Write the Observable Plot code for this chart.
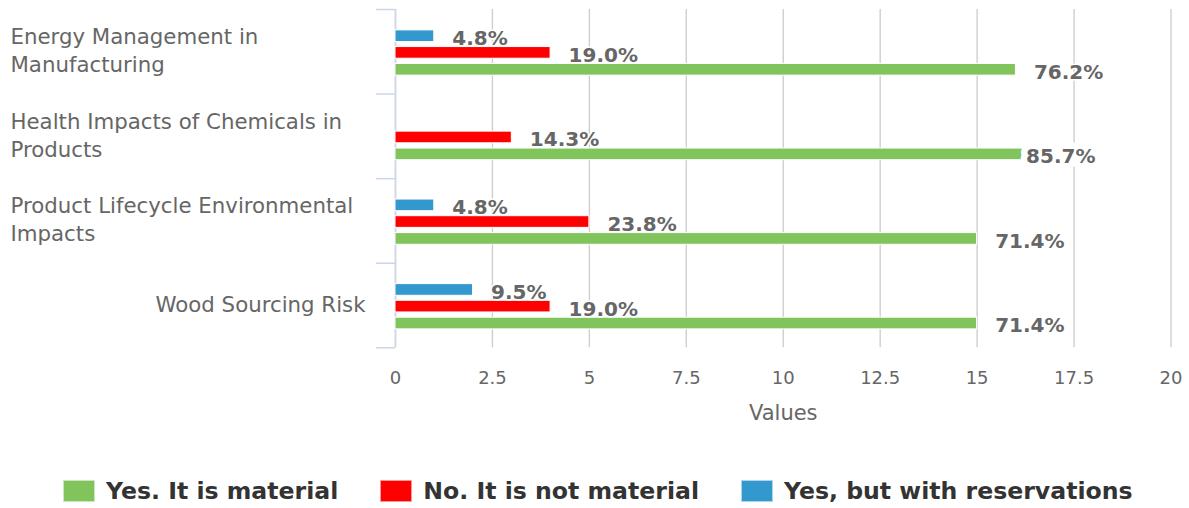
<!DOCTYPE html>
<html>
<head>
<meta charset="utf-8">
<script src="https://cdn.jsdelivr.net/npm/d3@7"></script>
<script src="https://cdn.jsdelivr.net/npm/@observablehq/plot@0.6"></script>
<style>
  body { margin: 0; background: #fff; font-family: "DejaVu Sans", sans-serif; }
  #chart svg { display: block; }
  #legend { display: flex; align-items: center; padding-top: 40px; padding-left: 63px; height: 22px; }
  .item { display: flex; align-items: center; margin-right: 42px; font-weight: bold; font-size: 23.6px; color: #333; white-space: nowrap; }
  .sw { width: 32px; height: 22px; margin-right: 11px; box-sizing: border-box; border: 1px solid rgba(255,255,255,0.6); }
</style>
</head>
<body>
<div id="chart"></div>
<div id="legend"></div>
<script>
const categories = [
  "Energy Management in Manufacturing",
  "Health Impacts of Chemicals in Products",
  "Product Lifecycle Environmental Impacts",
  "Wood Sourcing Risk"
];
const categoryLabels = [
  "Energy Management in\nManufacturing",
  "Health Impacts of Chemicals in\nProducts",
  "Product Lifecycle Environmental\nImpacts",
  "Wood Sourcing Risk"
];
const series = ["Yes. It is material", "No. It is not material", "Yes, but with reservations"];
const seriesColors = ["#80c45b", "#ff0000", "#3398cd"];
const yesMaterial = [16, 18, 15, 15];
const notMaterial = [4, 3, 5, 4];
const withReservations = [1, 0, 1, 2];
const xTicks = [0, 2.5, 5, 7.5, 10, 12.5, 15, 17.5, 20];
const axisTitle = "Values";

const seriesValues = [yesMaterial, notMaterial, withReservations];
// vertical slot (fraction of category band) for each series: green lowest, blue highest
const slot = [0.713, 0.513, 0.316];
const half = 0.069;

const rows = [];
categories.forEach((c, ci) => {
  const total = d3.sum(seriesValues, s => s[ci]);
  series.forEach((s, si) => {
    rows.push({category: c, ci, series: s, si, value: seriesValues[si][ci], pct: seriesValues[si][ci] / total * 100});
  });
});
const shown = rows.filter(d => d.value > 0);
const fmt = d => d.pct.toFixed(1) + "%";

const labelStyle = {fontSize: 20, fontWeight: "bold", fill: "#666", stroke: "white", paintOrder: "stroke"};

const chart = Plot.plot({
  width: 1189,
  height: 440,
  marginTop: 9,
  marginBottom: 92.7,
  marginLeft: 395,
  marginRight: 18.5,
  style: {fontFamily: "DejaVu Sans, sans-serif", background: "white"},
  x: {domain: [0, 20]},
  y: {domain: [0, categories.length], reverse: true},
  color: {domain: series, range: seriesColors},
  marks: [
    Plot.gridX({ticks: xTicks, stroke: "#cfcfcf", strokeOpacity: 1, strokeWidth: 1.4}),
    Plot.axisX({ticks: xTicks, tickFormat: d => String(d), tickSize: 0, tickPadding: 23, fontSize: 18, fill: "#666", label: null}),
    Plot.axisY({ticks: d3.range(categories.length + 1), tickSize: 19, tickFormat: () => "", stroke: "#ccd6eb", strokeWidth: 1.5, label: null}),
    Plot.ruleX([0], {stroke: "#ccd6eb", strokeWidth: 1.5}),
    Plot.rect(shown, {
      x1: 0, x2: "value",
      y1: d => d.ci + slot[d.si] - half,
      y2: d => d.ci + slot[d.si] + half,
      fill: "series", stroke: "white", strokeWidth: 1
    }),
    Plot.text(shown, {
      filter: d => d.value <= 17,
      x: "value", y: d => d.ci + slot[d.si], text: fmt,
      textAnchor: "start", dx: 18, dy: 2.5, strokeWidth: 3, ...labelStyle
    }),
    Plot.text(shown, {
      filter: d => d.value > 17,
      x: "value", y: d => d.ci + slot[d.si], text: fmt,
      textAnchor: "end", dx: 2, dy: 2.5, strokeWidth: 13, ...labelStyle
    }),
    Plot.text(categoryLabels, {
      filter: d => d.includes("\n"),
      y: d => categoryLabels.indexOf(d) + 0.5,
      frameAnchor: "left", textAnchor: "start", dx: -385, dy: -2.5,
      lineHeight: 1.31, fontSize: 21.3, fill: "#666"
    }),
    Plot.text(categoryLabels, {
      filter: d => !d.includes("\n"),
      y: d => categoryLabels.indexOf(d) + 0.5,
      frameAnchor: "left", textAnchor: "end", dx: -30,
      fontSize: 21.3, fill: "#666"
    }),
    Plot.text([axisTitle], {frameAnchor: "bottom", dy: 72, fontSize: 21, fill: "#666"})
  ]
});
document.getElementById("chart").append(chart);

const legend = document.getElementById("legend");
series.forEach((s, i) => {
  const item = document.createElement("div");
  item.className = "item";
  const sw = document.createElement("div");
  sw.className = "sw";
  sw.style.background = seriesColors[i];
  item.append(sw, document.createTextNode(s));
  legend.append(item);
});
</script>
</body>
</html>
